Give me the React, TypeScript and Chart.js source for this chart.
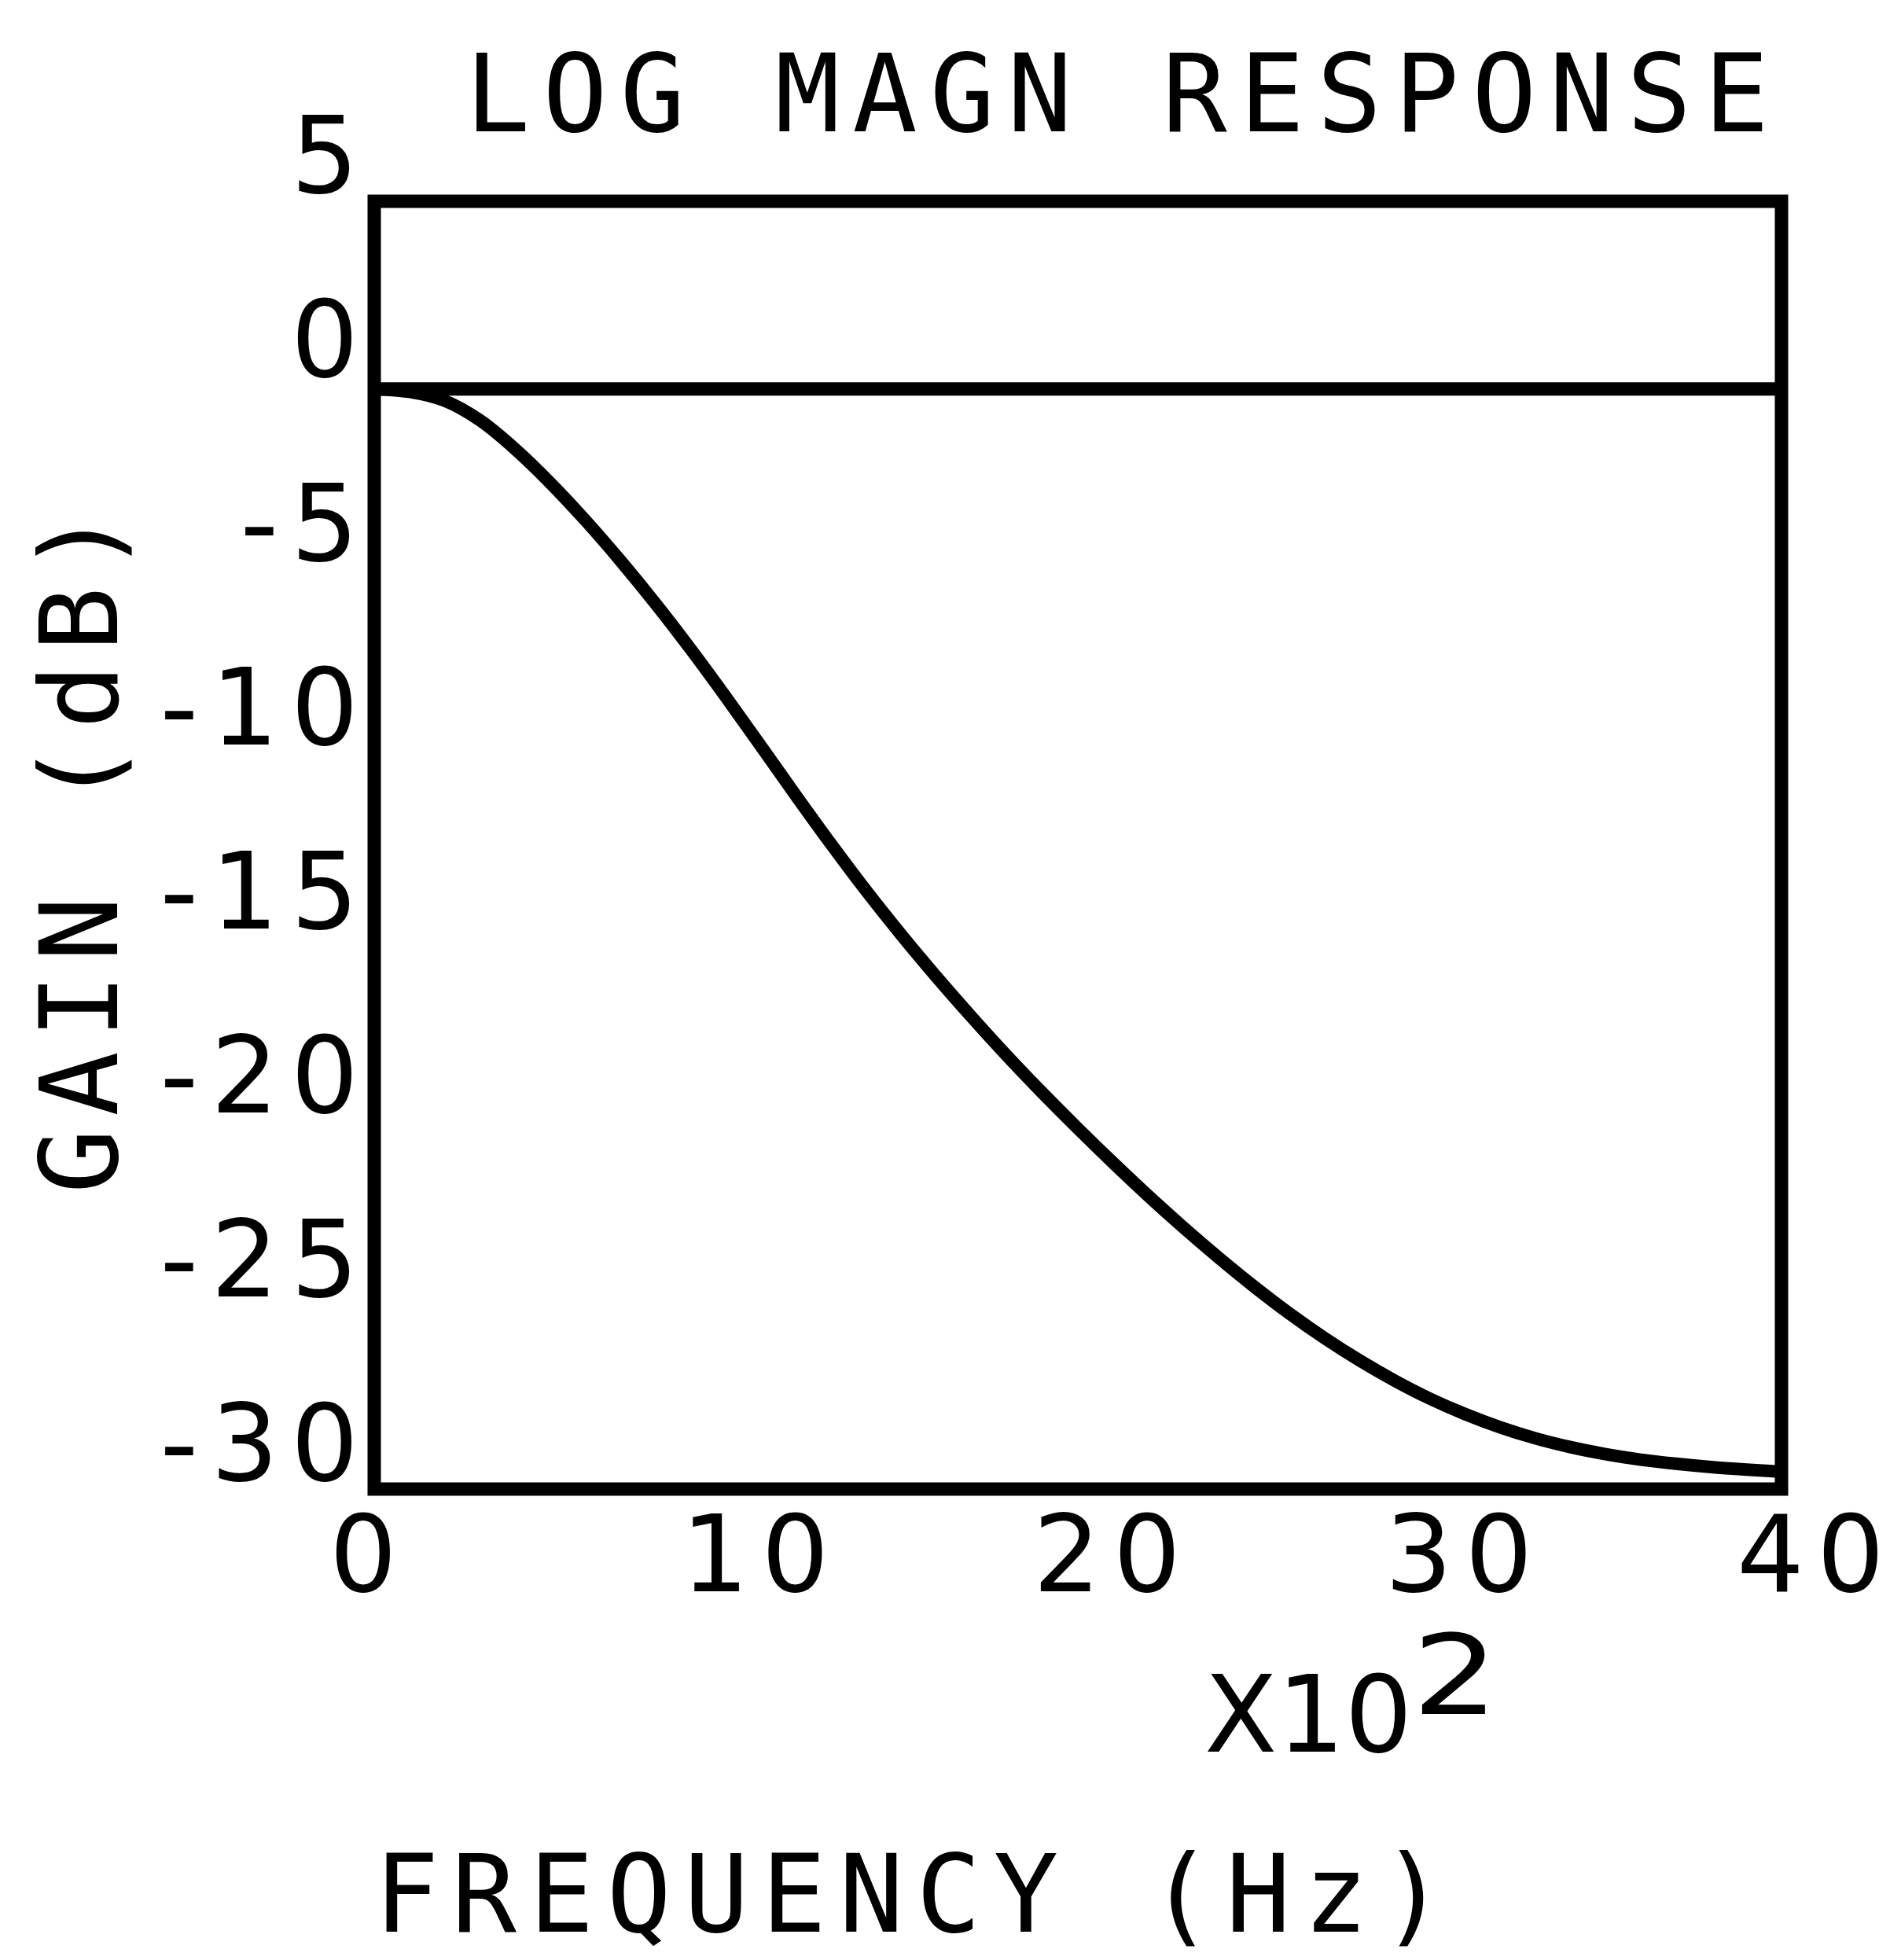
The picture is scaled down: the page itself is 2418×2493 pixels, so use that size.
import React, { useEffect, useRef } from "react";
import { Chart, registerables } from "chart.js";

Chart.register(...registerables);

const TITLE = "LOG MAGN RESPONSE";
const X_TITLE = "FREQUENCY (Hz)";
const Y_TITLE = "GAIN (dB)";
const X_MULTIPLIER = "X10";
const X_EXPONENT = "2";

// Frequency in units of 10^2 Hz
const FREQ = [
  0, 1, 2, 3, 4, 5, 6, 7, 8, 9, 10, 11, 12, 13, 14, 15, 16, 17, 18, 19, 20,
  21, 22, 23, 24, 25, 26, 27, 28, 29, 30, 31, 32, 33, 34, 35, 36, 37, 38, 39, 40,
];
// Gain in dB
const GAIN = [
  -0.1, -0.18, -0.42, -0.95, -1.73, -2.65, -3.67, -4.77, -5.94, -7.18, -8.48,
  -9.82, -11.17, -12.49, -13.76, -14.96, -16.1, -17.19, -18.24, -19.24, -20.2,
  -21.13, -22.03, -22.89, -23.71, -24.49, -25.22, -25.89, -26.5, -27.05, -27.54,
  -27.96, -28.32, -28.62, -28.86, -29.05, -29.2, -29.31, -29.4, -29.47, -29.53,
];
// Reference 0 dB line
const REF_FREQ = [0, 40];
const REF_GAIN = [-0.1, -0.1];

const X_TICKS = [0, 10, 20, 30, 40];
const X_TICK_LABELS = ["0", "10", "20", "30", "40"];
const Y_TICKS = [5, 0, -5, -10, -15, -20, -25, -30];
const Y_TICK_LABELS = ["5", "0", "-5", "-10", "-15", "-20", "-25", "-30"];

const LETTER_FONT = '"DejaVu Sans Mono", monospace';
const DIGIT_FONT = '"DejaVu Sans", sans-serif';
const LETTER_SPACING = "16px";

export default function App() {
  const ref = useRef<HTMLCanvasElement>(null);

  useEffect(() => {
    const canvas = ref.current;
    if (!canvas) return;

    const spacingPlugin = {
      id: "spacing",
      beforeDraw(chart: any) {
        chart.ctx.letterSpacing = LETTER_SPACING;
      },
      afterDraw(chart: any) {
        chart.ctx.letterSpacing = "0px";
      },
    };

    const framePlugin = {
      id: "frame",
      afterDatasetsDraw(chart: any) {
        const { ctx, chartArea: a } = chart;
        ctx.save();
        ctx.strokeStyle = "#000";
        ctx.lineWidth = 17;
        ctx.lineJoin = "miter";
        ctx.strokeRect(a.left, a.top, a.right - a.left, a.bottom - a.top);
        ctx.restore();
      },
    };

    const multPlugin = {
      id: "multiplier",
      afterDraw(chart: any) {
        const { ctx, chartArea: a, scales } = chart;
        const x0 = scales.x.getPixelForValue(23.6);
        ctx.save();
        ctx.letterSpacing = "0px";
        ctx.fillStyle = "#000";
        ctx.font = `135px ${DIGIT_FONT}`;
        ctx.textBaseline = "alphabetic";
        ctx.textAlign = "left";
        ctx.fillText(X_MULTIPLIER, x0, a.bottom + 334);
        const w = ctx.measureText(X_MULTIPLIER).width;
        ctx.translate(x0 + w, a.bottom + 286);
        ctx.scale(1.28, 1.04);
        ctx.fillText(X_EXPONENT, 0, 0);
        ctx.restore();
      },
    };

    const chart = new Chart(canvas, {
      type: "line",
      data: {
        datasets: [
          {
            data: FREQ.map((f, i) => ({ x: f, y: GAIN[i] })),
            borderColor: "#000",
            borderWidth: 16,
            pointRadius: 0,
            cubicInterpolationMode: "monotone",
            fill: false,
          },
          {
            data: REF_FREQ.map((f, i) => ({ x: f, y: REF_GAIN[i] })),
            borderColor: "#000",
            borderWidth: 17,
            pointRadius: 0,
            fill: false,
          },
        ],
      },
      options: {
        responsive: false,
        animation: false,
        devicePixelRatio: 1,
        layout: { padding: { left: 0, right: 152, top: 0, bottom: 0 } },
        plugins: {
          legend: { display: false },
          tooltip: { enabled: false },
          title: {
            display: true,
            text: TITLE,
            align: "end",
            color: "#000",
            font: { family: LETTER_FONT, size: 137, weight: "normal", lineHeight: 1 },
            padding: { top: 63, bottom: 56 },
          },
        },
        scales: {
          x: {
            type: "linear",
            min: 0,
            max: 40,
            position: "bottom",
            grid: { display: false, drawTicks: false },
            border: { display: false },
            afterBuildTicks: (s: any) => {
              s.ticks = X_TICKS.map((v) => ({ value: v }));
            },
            ticks: {
              align: "start",
              labelOffset: -57,
              padding: 27,
              color: "#000",
              maxRotation: 0,
              autoSkip: false,
              font: { family: DIGIT_FONT, size: 135, lineHeight: 1 },
              callback: (v: any) => {
                const i = X_TICKS.indexOf(Number(v));
                return i >= 0 ? X_TICK_LABELS[i] : "";
              },
            },
            title: {
              display: true,
              text: X_TITLE,
              align: "start",
              color: "#000",
              font: { family: LETTER_FONT, size: 137, lineHeight: 1 },
              padding: { top: 0, bottom: 3 },
            },
            afterFit: (s: any) => {
              s.height = 599;
              s.paddingLeft = 0;
              s.paddingRight = 0;
            },
          },
          y: {
            type: "linear",
            min: -30,
            max: 5,
            position: "left",
            grid: { display: false, drawTicks: false },
            border: { display: false },
            afterBuildTicks: (s: any) => {
              s.ticks = Y_TICKS.map((v) => ({ value: v }));
            },
            ticks: {
              labelOffset: -46,
              padding: 4,
              color: "#000",
              autoSkip: false,
              font: { family: DIGIT_FONT, size: 135, lineHeight: 1 },
              callback: (v: any) => {
                const i = Y_TICKS.indexOf(Number(v));
                return i >= 0 ? Y_TICK_LABELS[i] : "";
              },
            },
            title: {
              display: true,
              text: Y_TITLE,
              color: "#000",
              font: { family: LETTER_FONT, size: 137, lineHeight: 1 },
              padding: { top: 45, bottom: 0 },
            },
            afterFit: (s: any) => {
              s.width = 476;
              s.paddingTop = 0;
              s.paddingBottom = 0;
            },
          },
        },
      },
      plugins: [spacingPlugin, framePlugin, multPlugin],
    } as any);

    return () => chart.destroy();
  }, []);

  return (
    <div style={{ position: "absolute", left: 0, top: 0, width: 2418, height: 2493, background: "#fff" }}>
      <canvas ref={ref} width={2418} height={2493} style={{ display: "block" }} />
    </div>
  );
}
